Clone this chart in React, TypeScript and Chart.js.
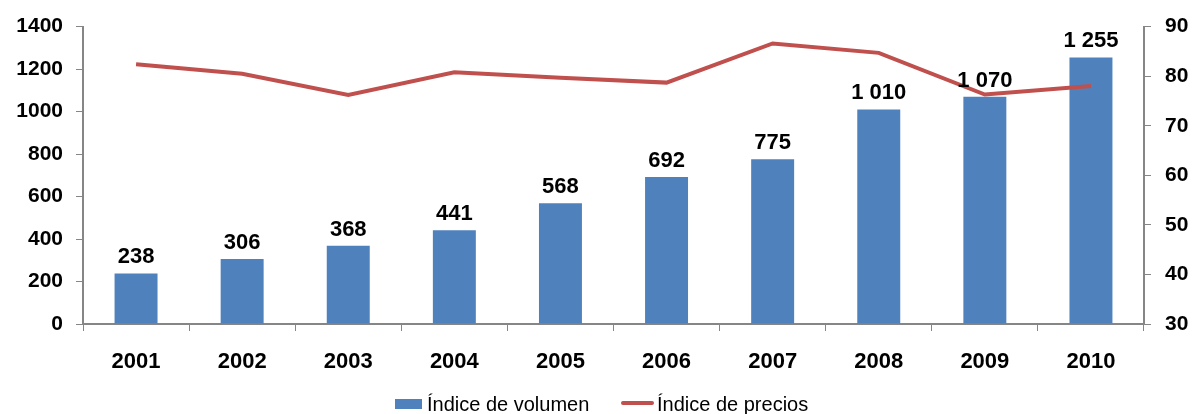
import React, { useEffect, useRef } from "react";
import { Chart, registerables } from "chart.js";

Chart.register(...registerables);

const years = ["2001", "2002", "2003", "2004", "2005", "2006", "2007", "2008", "2009", "2010"];
const volumeIndex = [238, 306, 368, 441, 568, 692, 775, 1010, 1070, 1255];
const priceIndex = [82.4, 80.5, 76.2, 80.8, 79.7, 78.7, 86.6, 84.7, 76.3, 78.0];
const legendLabels = ["Índice de volumen", "Índice de precios"];

const BAR_COLOR = "#4F81BD";
const LINE_COLOR = "#C0504D";
const AXIS_COLOR = "#868686";
const FONT = "'Liberation Sans', Arial, sans-serif";

const fmt = (v: number) => String(v).replace(/\B(?=(\d{3})+(?!\d))/g, " ");

const barLabels = {
  id: "barLabels",
  afterDatasetsDraw(chart: any) {
    const ctx = chart.ctx;
    const meta = chart.getDatasetMeta(0);
    ctx.save();
    ctx.font = `bold 22px ${FONT}`;
    ctx.fillStyle = "#000";
    ctx.textAlign = "center";
    ctx.textBaseline = "alphabetic";
    meta.data.forEach((el: any, i: number) => {
      ctx.fillText(fmt(volumeIndex[i]), el.x, el.y - 10);
    });
    ctx.restore();
  },
};

const customLegend = {
  id: "customLegend",
  afterDraw(chart: any) {
    const ctx = chart.ctx;
    ctx.save();
    ctx.font = `20px ${FONT}`;
    ctx.textBaseline = "alphabetic";
    const baseY = 411;
    // volume swatch
    ctx.fillStyle = BAR_COLOR;
    ctx.fillRect(395, 399, 27, 10);
    ctx.fillStyle = "#000";
    ctx.fillText(legendLabels[0], 427, baseY);
    // price swatch
    ctx.strokeStyle = LINE_COLOR;
    ctx.lineWidth = 4;
    ctx.lineCap = "round";
    ctx.beginPath();
    ctx.moveTo(623, 403);
    ctx.lineTo(652, 403);
    ctx.stroke();
    ctx.fillText(legendLabels[1], 657, baseY);
    ctx.restore();
  },
};

export default function App() {
  const ref = useRef<HTMLCanvasElement | null>(null);
  useEffect(() => {
    document.body.style.margin = "0";
    const chart = new Chart(ref.current as HTMLCanvasElement, {
      type: "bar",
      data: {
        labels: years,
        datasets: [
          {
            type: "bar",
            label: legendLabels[0],
            data: volumeIndex,
            backgroundColor: BAR_COLOR,
            yAxisID: "y",
            categoryPercentage: 1,
            barPercentage: 0.405,
            order: 2,
          },
          {
            type: "line",
            label: legendLabels[1],
            data: priceIndex,
            borderColor: LINE_COLOR,
            backgroundColor: LINE_COLOR,
            borderWidth: 4,
            pointRadius: 0,
            tension: 0,
            yAxisID: "y1",
            order: 1,
          } as any,
        ],
      },
      options: {
        animation: false,
        responsive: false,
        maintainAspectRatio: false,
        layout: { padding: { top: 24, bottom: 30, left: 0, right: 0 } },
        plugins: { legend: { display: false }, tooltip: { enabled: false } },
        scales: {
          x: {
            offset: true,
            grid: {
              offset: true,
              drawOnChartArea: false,
              drawTicks: true,
              tickLength: 7,
              color: AXIS_COLOR,
            },
            border: { color: AXIS_COLOR, width: 2 },
            ticks: { color: "#000", font: { family: FONT, size: 22, weight: "bold" }, padding: 18 },
            afterFit: (s: any) => { s.height = 60; },
          },
          y: {
            position: "left",
            min: 0,
            max: 1400,
            ticks: {
              stepSize: 200,
              color: "#000",
              font: { family: FONT, size: 21, weight: "bold" },
              padding: 13,
              callback: (v: any) => String(v),
            },
            grid: { drawOnChartArea: false, drawTicks: true, tickLength: 7, color: AXIS_COLOR },
            border: { color: AXIS_COLOR, width: 2 },
            afterFit: (s: any) => { s.width = 83; },
          },
          y1: {
            position: "right",
            min: 30,
            max: 90,
            ticks: {
              stepSize: 10,
              color: "#000",
              font: { family: FONT, size: 21, weight: "bold" },
              padding: 14,
              callback: (v: any) => String(v),
            },
            grid: { drawOnChartArea: false, drawTicks: true, tickLength: 7, color: AXIS_COLOR },
            border: { color: AXIS_COLOR, width: 2 },
            afterFit: (s: any) => { s.width = 49; },
          },
        },
      },
      plugins: [barLabels, customLegend],
    });
    return () => chart.destroy();
  }, []);
  return (
    <div style={{ position: "absolute", left: 0, top: 0, width: 1193, height: 414, background: "#fff" }}>
      <canvas ref={ref} width={1193} height={414} style={{ display: "block" }} />
    </div>
  );
}
